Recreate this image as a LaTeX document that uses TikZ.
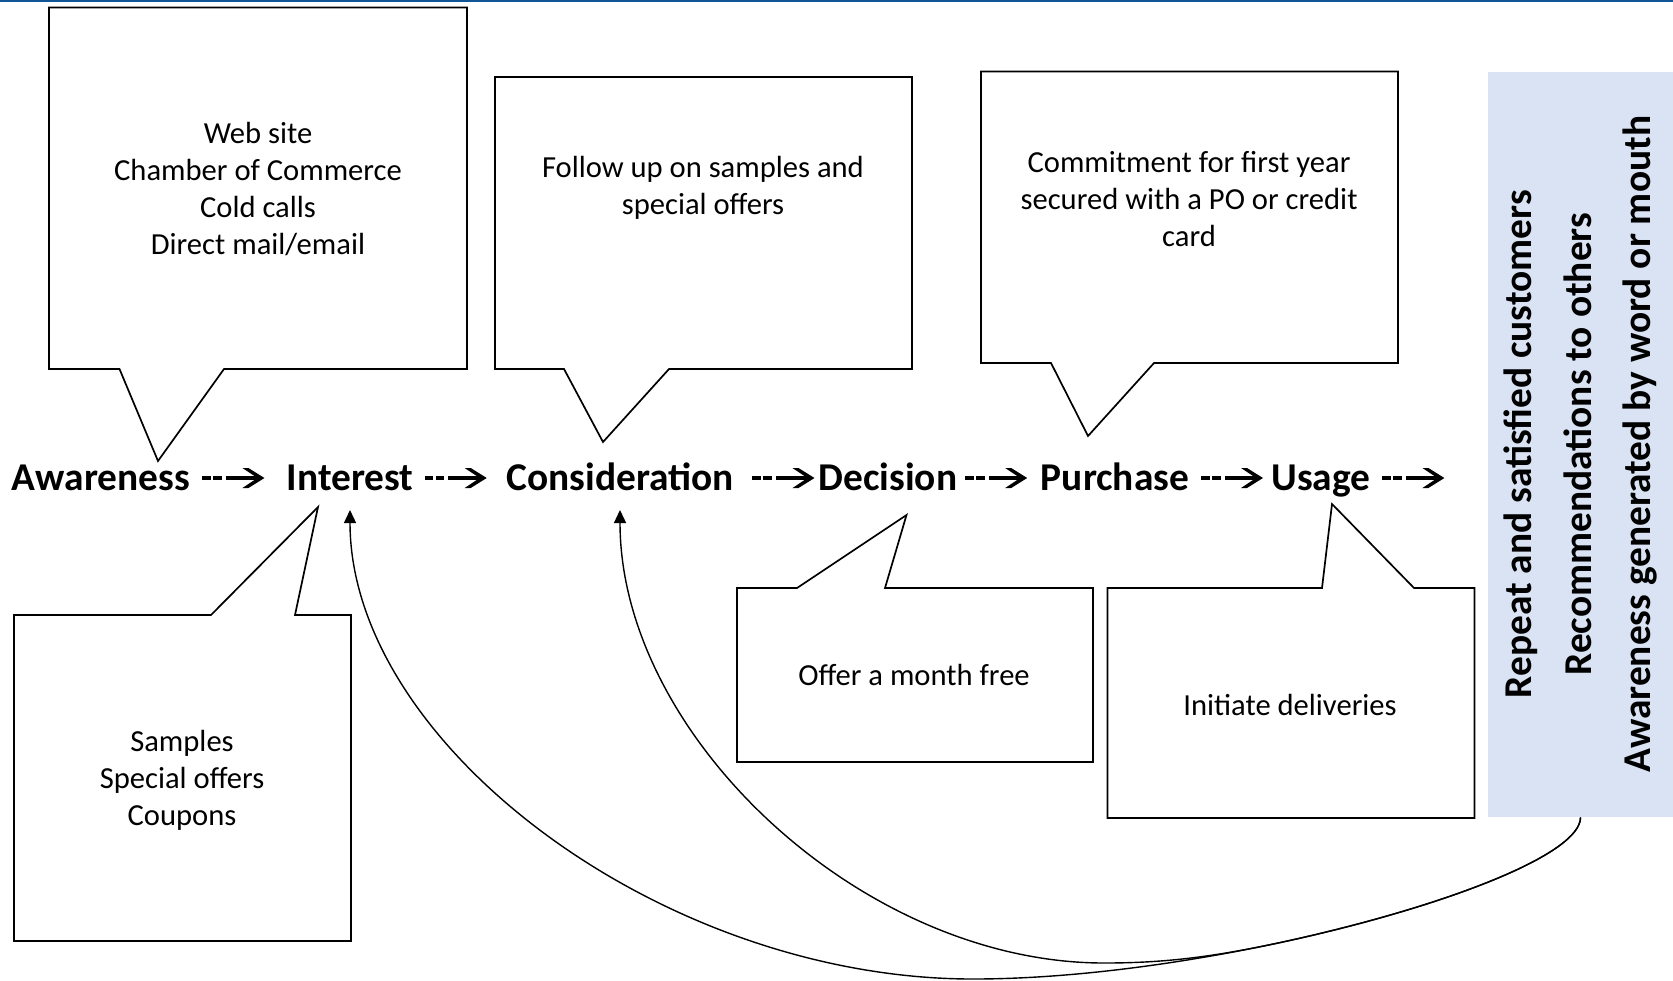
\documentclass[tikz,border=0pt]{standalone}
\usepackage{fontspec}
\setmainfont{Carlito}
\usetikzlibrary{arrows.meta}
\definecolor{loopblue}{HTML}{DAE3F3}
\definecolor{topblue}{RGB}{16,86,150}

\begin{document}
\begin{tikzpicture}[x=0.5pt, y=-0.5pt,
    stage/.style={font=\fontsize{19.7}{23}\selectfont\bfseries, inner sep=0pt, anchor=base},
    note/.style={font=\fontsize{15.3}{18.5}\selectfont, align=center, inner sep=0pt},
    bubble/.style={draw, line width=0.85pt},
    dashpart/.style={line width=1.75pt, dash pattern=on 4.25pt off 1.25pt},
    back/.style={line width=0.7pt, -{Triangle[length=6.5pt,width=6pt]}}]
  \useasboundingbox (0,0) rectangle (1673,980);
  \draw[topblue, line width=1pt] (0,1) -- (1673,1);

  % callouts above the row
  \draw[bubble] (49,7.5) -- (467,7.5) -- (467,369) -- (224,369) -- (158,461) -- (119.5,369) -- (49,369) -- cycle;
  \draw[bubble] (495,77) -- (912,77) -- (912,369) -- (669,369) -- (603,442) -- (564,369) -- (495,369) -- cycle;
  \draw[bubble] (981,71.5) -- (1398,71.5) -- (1398,363) -- (1154,363) -- (1088,436) -- (1051,363) -- (981,363) -- cycle;

  % callouts below the row
  \draw[bubble] (14,615) -- (211,615) -- (318,507) -- (295,615) -- (351,615) -- (351,941) -- (14,941) -- cycle;
  \draw[bubble] (737,588) -- (797,588) -- (906.5,515) -- (885,588) -- (1093,588) -- (1093,762) -- (737,762) -- cycle;
  \draw[bubble] (1107.5,588) -- (1322,588) -- (1332,504) -- (1414,588) -- (1474.5,588) -- (1474.5,818) -- (1107.5,818) -- cycle;

  \node[note] (awnote) at (258,189) {Web site\\Chamber of Commerce\\Cold calls\\Direct mail/email};
  \node[note] (connote) at (703,188) {Follow up on samples and\\special offers};
  \node[note] (punote) at (1189,199) {Commitment for first year\\secured with a PO or credit\\card};
  \node[note] (intnote) at (182,780) {Samples\\Special offers\\Coupons};
  \node[note] (denote) at (914,675) {Offer a month free};
  \node[note] (usnote) at (1290,705) {Initiate deliveries};

  % stages
  \node[stage] (aw) at (101,490) {Awareness};
  \node[stage] (int) at (350,490) {Interest};
  \node[stage] (con) at (620,490) {Consideration};
  \node[stage] (de) at (888,490) {Decision};
  \node[stage] (pu) at (1115,490) {Purchase};
  \node[stage] (us) at (1321,490) {Usage};
  \foreach \s/\d in {aw/12, int/11, con/18.5, de/7.5, pu/11.5, us/11.5} {
    \draw[dashpart] (\s.base east) ++(\d,-12) -- ++(19.5,0);
    \draw[line width=1.75pt] (\s.base east) ++(\d+23.5,-12) -- ++(32,0);
    \fill (\s.base east) ++(\d+62,-12) -- ++(-16,-10) -- ++(-6,0) -- ++(15,10) -- ++(-15,10) -- ++(6,0) -- cycle;
  }

  % loop back
  \node[fill=loopblue, inner sep=0pt, minimum width=92.5pt, minimum height=372.75pt] (loop) at (1580.5,444.25) {};
  \node[rotate=90, align=center, font=\fontsize{19.7}{29.75}\selectfont\bfseries] (looptext) at (loop.center)
    {Repeat and satisfied customers\\Recommendations to others\\Awareness generated by word or mouth};

  \coordinate (intback) at ([yshift=-10pt]int.base);
  \coordinate (conback) at ([yshift=-10pt]con.base);
  \coordinate (merge) at (1295,939.3);
  \draw[back] (loop.south) .. controls +(0,36) and (1452,904) .. (merge)
    .. controls (1190.3,962.7) and (1073,979) .. (973,979) .. controls +(-311,0) and +(0,234) .. (intback);
  \draw[back] (loop.south) .. controls +(0,36) and (1452,904) .. (merge)
    .. controls (1215,957.2) and (1164,963) .. (1104,963) .. controls +(-242,0) and +(0,226) .. (conback);
\end{tikzpicture}
\end{document}
